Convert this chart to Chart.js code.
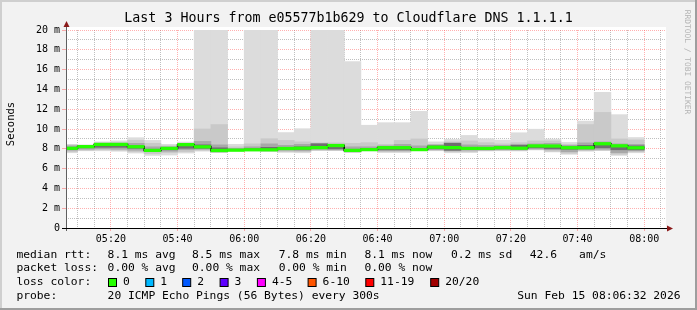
<!DOCTYPE html>
<html><head><meta charset="utf-8">
<script src="https://cdn.jsdelivr.net/npm/chart.js@4/dist/chart.umd.min.js"></script>
<style>html,body{margin:0;padding:0;background:#f2f2f2;overflow:hidden}canvas{display:block}</style>
</head><body>
<canvas id="c" width="697" height="310"></canvas>
<script>
// ---------- data ----------
const chartTitle = 'Last 3 Hours from e05577b1b629 to Cloudflare DNS 1.1.1.1';
const yAxisTitle = 'Seconds';
const watermark = 'RRDTOOL / TOBI OETIKER';
const rangeStart = '05:06:32';
const rangeEnd = '08:06:32';
const stepMinutes = 5;
const intervalStart = ['05:05','05:10','05:15','05:20','05:25','05:30','05:35','05:40','05:45','05:50','05:55',
  '06:00','06:05','06:10','06:15','06:20','06:25','06:30','06:35','06:40','06:45','06:50','06:55',
  '07:00','07:05','07:10','07:15','07:20','07:25','07:30','07:35','07:40','07:45','07:50','07:55'];
// values in ms
const median   = [8.05,8.22,8.44,8.44,8.21,7.84,8.04,8.42,8.2,7.83,7.86,7.9,7.9,8.03,8.06,8.12,8.33,7.84,7.92,8.11,8.11,7.92,8.16,8.12,8.04,8.04,8.11,8.06,8.29,8.28,8.11,8.11,8.51,8.3,8.1];
const smokeMin = [7.6,7.8,7.8,7.75,7.57,7.33,7.37,7.57,7.77,7.6,7.8,7.78,7.72,7.64,7.6,7.8,7.8,7.6,7.78,7.62,7.62,7.8,7.8,7.6,7.62,7.78,7.8,7.78,7.88,7.68,7.44,7.75,7.8,7.33,7.6];
const smokeMax = [8.45,8.4,8.7,8.8,9.12,8.85,8.45,8.68,25,25,8.45,25,25,9.64,10.03,25,25,16.8,10.38,10.64,10.64,11.78,8.7,8.95,9.35,9.02,8.88,9.62,9.98,8.98,8.64,10.8,13.7,11.45,9.14];
const band2Lo  = [7.7,7.85,7.9,7.85,7.7,7.5,7.6,7.7,7.85,7.65,7.82,7.82,7.78,7.7,7.7,7.85,7.85,7.65,7.82,7.7,7.7,7.82,7.85,7.7,7.7,7.82,7.85,7.82,7.92,7.75,7.55,7.82,7.85,7.44,7.7];
const band2Hi  = [8.38,8.35,8.6,8.65,8.85,8.55,8.3,8.55,10.0,10.45,8.2,8.5,9.02,8.85,8.7,8.6,8.6,8.55,8.62,8.45,8.85,9.0,8.45,8.7,8.8,8.62,8.5,8.62,8.8,8.8,8.45,10.45,11.68,9.0,8.9];
const band3Lo  = [7.85,7.95,8.0,7.95,7.85,7.7,7.75,7.9,7.95,7.7,7.85,7.85,7.82,7.85,7.8,7.95,7.9,7.75,7.86,7.8,7.8,7.85,7.9,7.8,7.85,7.88,7.9,7.9,7.98,7.9,7.7,7.9,7.95,7.6,7.8];
const band3Hi  = [8.3,8.3,8.5,8.55,8.55,8.2,8.2,8.5,8.75,8.4,8.05,8.2,8.5,8.35,8.45,8.55,8.45,8.2,8.2,8.3,8.45,8.3,8.4,8.6,8.4,8.35,8.35,8.45,8.5,8.55,8.35,8.6,8.7,8.5,8.45];
const band4Lo  = [7.95,8.1,8.15,8.15,8.05,7.8,7.9,8.05,8.05,7.75,7.82,7.88,7.86,7.95,7.95,8.05,8.0,7.8,7.88,7.9,7.9,7.88,8.0,7.85,7.95,7.95,8.0,7.98,8.1,8.0,7.95,8.0,8.1,7.9,7.9];
const band4Hi  = [8.15,8.25,8.45,8.45,8.3,7.95,8.1,8.45,8.4,8.1,7.95,8.0,8.15,8.1,8.2,8.5,8.35,7.95,8.0,8.2,8.2,8.05,8.3,8.55,8.15,8.12,8.2,8.35,8.35,8.32,8.2,8.35,8.55,8.35,8.3];
const xTickLabels = ['05:20','05:40','06:00','06:20','06:40','07:00','07:20','07:40','08:00'];
const yTickLabels = ['0','2 m','4 m','6 m','8 m','10 m','12 m','14 m','16 m','18 m','20 m'];
const rttLabel = 'median rtt:';
const rttStats = ['8.1 ms avg','8.5 ms max','7.8 ms min','8.1 ms now','0.2 ms sd','42.6','am/s'];
const lossLabel = 'packet loss:';
const lossStats = ['0.00 % avg','0.00 % max','0.00 % min','0.00 % now'];
const lossColorLabel = 'loss color:';
const lossBuckets = ['0','1','2','3','4-5','6-10','11-19','20/20'];
const lossColors = ['#26ff00','#00b8ff','#0059ff','#5e00ff','#ff00ff','#ff5500','#ff0000','#a10000'];
const probeLabel = 'probe:';
const probeText = '20 ICMP Echo Pings (56 Bytes) every 300s';
const stampText = 'Sun Feb 15 08:06:32 2026';

// ---------- helpers ----------
function toMin(s){const p=s.split(':').map(Number);return p[0]*60+p[1]+(p[2]||0)/60;}
const xMin = toMin(rangeStart), xMax = toMin(rangeEnd);
function bars(lo,hi){return intervalStart.map((s,i)=>({x:toMin(s)+stepMinutes/2,y:[lo[i],hi[i]]}));}
const medHalf = 0.13;
const medLo = median.map(v=>v-medHalf), medHi = median.map(v=>v+medHalf);
const stepLine = intervalStart.map((s,i)=>({x:toMin(s),y:median[i]}));
stepLine.push({x:toMin(intervalStart[intervalStart.length-1])+stepMinutes,y:median[median.length-1]});
const xMajor = new Set(xTickLabels.map(toMin));
function fmtTime(m){const h=Math.floor(m/60),mm=Math.round(m%60);return String(h).padStart(2,'0')+':'+String(mm).padStart(2,'0');}

const MONO = '"DejaVu Sans Mono", monospace';
const barBase = {type:'bar',grouped:false,barPercentage:1,categoryPercentage:1,borderWidth:0,borderSkipped:false};
const MAJOR = 'rgba(255,80,80,0.45)', MINOR = 'rgba(175,175,175,0.8)';

const decor = {
  id:'decor',
  beforeDraw(chart){
    const ctx=chart.ctx, W=chart.width, H=chart.height, a=chart.chartArea;
    ctx.save();
    ctx.fillStyle='#f2f2f2'; ctx.fillRect(0,0,W,H);
    ctx.fillStyle='#cfcfcf'; ctx.fillRect(0,0,W,2); ctx.fillRect(0,0,2,H);
    ctx.fillStyle='#9e9e9e'; ctx.fillRect(0,H-2,W,2); ctx.fillRect(W-2,0,2,H);
    ctx.fillStyle='#ffffff'; ctx.fillRect(a.left,a.top-3,a.right-a.left,a.bottom-a.top+3);
    ctx.restore();
  },
  afterDraw(chart){
    const ctx=chart.ctx, a=chart.chartArea, W=chart.width;
    ctx.save();
    ctx.lineWidth=1;
    ctx.strokeStyle='#606060';
    ctx.beginPath(); ctx.moveTo(a.left+0.5,a.top-3); ctx.lineTo(a.left+0.5,a.bottom+3); ctx.stroke();
    ctx.strokeStyle='#000';
    ctx.beginPath(); ctx.moveTo(a.left-4,a.bottom+0.5); ctx.lineTo(a.right+2,a.bottom+0.5); ctx.stroke();
    ctx.fillStyle='#8b1a1a';
    ctx.beginPath(); ctx.moveTo(a.left+0.5,a.top-9); ctx.lineTo(a.left-2.5,a.top-3); ctx.lineTo(a.left+3.5,a.top-3); ctx.closePath(); ctx.fill();
    ctx.beginPath(); ctx.moveTo(a.right+7,a.bottom+0.5); ctx.lineTo(a.right+1,a.bottom-2.5); ctx.lineTo(a.right+1,a.bottom+3.5); ctx.closePath(); ctx.fill();
    ctx.fillStyle='#000'; ctx.textBaseline='middle';
    ctx.font='13.3px '+MONO; ctx.textAlign='center';
    ctx.fillText(chartTitle, W/2, 19);
    ctx.save(); ctx.translate(11,124); ctx.rotate(-Math.PI/2);
    ctx.font='10.5px '+MONO; ctx.fillText(yAxisTitle,0,0); ctx.restore();
    ctx.save(); ctx.translate(687,62); ctx.rotate(Math.PI/2);
    ctx.fillStyle='#b4b4b4'; ctx.font='7.9px '+MONO; ctx.fillText(watermark,0,0); ctx.restore();
    ctx.textAlign='left'; ctx.font='11.3px '+MONO; ctx.fillStyle='#000';
    const x0=16.4, rows=[255,268.5,282.5,296.3];
    const cols=[107.6,192,278.7,364.4,451,529.8,579.1];
    ctx.fillText(rttLabel,x0,rows[0]);
    rttStats.forEach((t,i)=>ctx.fillText(t,cols[i],rows[0]));
    ctx.fillText(lossLabel,x0,rows[1]);
    lossStats.forEach((t,i)=>ctx.fillText(t,cols[i],rows[1]));
    ctx.fillText(lossColorLabel,x0,rows[2]);
    const boxX=[108,145.3,182.2,219.6,256.9,307.6,365.3,430.2];
    lossBuckets.forEach((t,i)=>{
      ctx.fillStyle=lossColors[i]; ctx.fillRect(boxX[i]+0.5,rows[2]-4,8,8);
      ctx.strokeStyle='#000'; ctx.lineWidth=1; ctx.strokeRect(boxX[i]+0.5,rows[2]-4,8,8);
      ctx.fillStyle='#000'; ctx.fillText(t,boxX[i]+15,rows[2]);
    });
    ctx.fillText(probeLabel,x0,rows[3]);
    ctx.fillText(probeText,cols[0],rows[3]);
    ctx.textAlign='right'; ctx.fillText(stampText,680.5,rows[3]);
    ctx.restore();
  }
};

new Chart(document.getElementById('c'),{
  type:'bar',
  data:{datasets:[
    {...barBase,data:bars(medLo,medHi),backgroundColor:'#26ff00',order:0},
    {type:'line',data:stepLine,stepped:'before',borderColor:'#000',borderWidth:1.5,pointRadius:0,fill:false,order:1},
    {...barBase,data:bars(band4Lo,band4Hi),backgroundColor:'#6f6f6f',order:2},
    {...barBase,data:bars(band3Lo,band3Hi),backgroundColor:'#a8a8a8',order:3},
    {...barBase,data:bars(band2Lo,band2Hi),backgroundColor:'#c9c9c9',order:4},
    {...barBase,data:bars(smokeMin,smokeMax),backgroundColor:'#dcdcdc',order:5}
  ]},
  options:{
    responsive:false, animation:false, devicePixelRatio:1, events:[],
    layout:{padding:{left:0,right:31,top:30,bottom:62}},
    plugins:{legend:{display:false},tooltip:{enabled:false},title:{display:false}},
    scales:{
      x:{type:'linear',min:xMin,max:xMax,offset:false,z:1,
        grid:{offset:false,lineWidth:1,drawTicks:true,tickLength:3,
          color:c=>xMajor.has(c.tick&&c.tick.value)?MAJOR:MINOR,
          tickColor:c=>xMajor.has(c.tick&&c.tick.value)?MAJOR:'rgba(0,0,0,0)'},
        border:{display:false,dash:[1,1]},
        afterBuildTicks:s=>{const t=[];for(let m=Math.ceil(xMin/stepMinutes)*stepMinutes;m<xMax;m+=stepMinutes)t.push({value:m});s.ticks=t;},
        afterFit:s=>{s.height=20;},
        ticks:{autoSkip:false,maxRotation:0,padding:2,color:'#000',font:{family:MONO,size:10},
          callback:v=>{const l=fmtTime(v);return xTickLabels.includes(l)?l:'';}}
      },
      y:{type:'linear',min:0,max:20,z:1,
        grid:{lineWidth:1,drawTicks:true,tickLength:4,
          color:c=>(c.tick&&c.tick.value%2===0)?MAJOR:MINOR,
          tickColor:c=>(c.tick&&c.tick.value%2===0)?MAJOR:'rgba(0,0,0,0)'},
        border:{display:false,dash:[1,1]},
        afterBuildTicks:s=>{const t=[];for(let v=0;v<=20;v++)t.push({value:v});s.ticks=t;},
        afterFit:s=>{s.width=66;},
        ticks:{autoSkip:false,padding:2,color:'#000',font:{family:MONO,size:10},
          callback:v=>(v%2===0)?yTickLabels[v/2]:''}
      }
    }
  },
  plugins:[decor]
});
</script>
</body></html>
